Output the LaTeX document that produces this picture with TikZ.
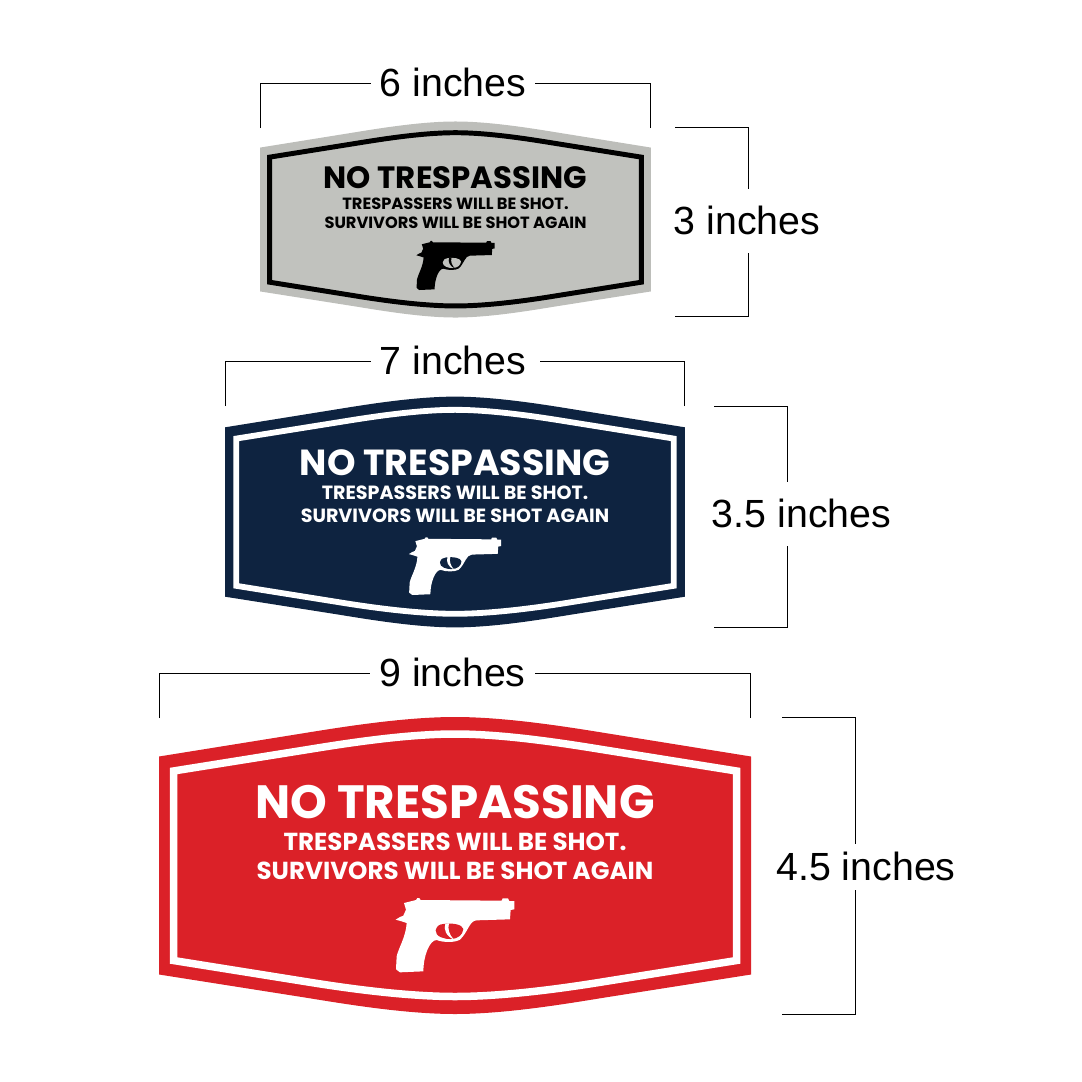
\documentclass[tikz,border=0pt]{standalone}
\usepackage{fontspec}
\setmainfont{Liberation Sans}
\newfontfamily\signfont{Poppins}
\definecolor{plategray}{HTML}{BDBEBA}
\definecolor{facegray}{HTML}{C1C2BE}
\definecolor{platenavy}{HTML}{0E2340}
\definecolor{platered}{HTML}{DB2128}
\newcommand{\outerpath}{(-296,-109) -- (-150,-132.5) .. controls (-110,-139) and (-50,-148.5) .. (0,-148.5) .. controls (50,-148.5) and (110,-139) .. (150,-132.5) -- (296,-109) -- (296,109) -- (150,132) .. controls (110,138.5) and (50,148.5) .. (0,148.5) .. controls (-50,148.5) and (-110,138.5) .. (-150,132) -- (-296,109) -- cycle}
\newcommand{\innerpath}{(-281.5,-94.5) -- (-150,-115.5) .. controls (-110,-122) and (-50,-131.5) .. (0,-131.5) .. controls (50,-131.5) and (110,-122) .. (150,-115.5) -- (281.5,-94.5) -- (281.5,95) -- (150,116) .. controls (110,122.5) and (50,131) .. (0,131) .. controls (-50,131) and (-110,122.5) .. (-150,116) -- (-281.5,95) -- cycle}
\newcommand{\gunpath}{(72,39) -- (108,30) -- (112,24) -- (118,24) -- (122,30) -- (365,32) -- (368,25) -- (384,25) -- (388,33) -- (403,33) -- (403,58) -- (392,60) -- (390,88) -- (290,91) .. controls (268,92) and (265,125) .. (240,149) .. controls (225,158) and (190,158) .. (170,150) .. controls (148,150) and (130,200) .. (130,244) -- (60,247) -- (52,241) -- (48,237) -- (50,199) .. controls (55,175) and (78,140) .. (80,99) -- (65,94) -- (47,89) -- (60,81) -- (70,77) -- (78,59) -- cycle}
\newcommand{\guardpath}{(167,121) .. controls (170,108) and (178,103) .. (190,102) .. controls (215,98) and (248,103) .. (250,117) .. controls (248,135) and (235,146) .. (212,147) .. controls (195,148) and (165,140) .. (167,121) -- cycle}
\newcommand{\triggerpath}{(196,101) .. controls (190,118) and (198,138) .. (222,149) .. controls (208,134) and (202,118) .. (207,100) -- cycle}
\tikzset{
	dimline/.style = {draw=black, line width=1pt},
	dimwide/.style = {font=\fontsize{39.3}{39.3}\selectfont, text height=26pt, text depth=0pt, inner xsep=9pt, inner ysep=0pt},
	dimhigh/.style = {font=\fontsize{39.3}{39.3}\selectfont, text height=26pt, text depth=0pt, inner xsep=0pt, inner ysep=19pt},
	signtext/.style = {anchor=base, inner sep=0pt, transform shape, text=\ink}
}
\begin{document}
\begin{tikzpicture}[x=1pt, y=-1pt]
	\useasboundingbox (0,0) rectangle (1082,1082);
	\foreach \name/\cx/\cy/\sc/\plate/\face/\ink in {
		gray/455.5/219.5/0.66/plategray/facegray/black,
		navy/455/512/0.777/platenavy/platenavy/white,
		red/455/865.5/1/platered/platered/white} {
		\begin{scope}[shift={(\cx,\cy)}, scale=\sc]
			\fill[\plate] \outerpath;
			\pgfmathsetlengthmacro{\bandw}{7.5pt*\sc}
			\draw[\ink, line width=\bandw, fill=\face] \innerpath;
			\node[signtext, font=\signfont\bfseries\fontsize{46.7}{46.7}\selectfont] (\name title) at (0,-47.5) {NO TRESPASSING};
			\node[signtext, font=\signfont\bfseries\fontsize{24.6}{24.6}\selectfont] (\name lineone) at (0,-15.5) {TRESPASSERS WILL BE SHOT.};
			\node[signtext, font=\signfont\bfseries\fontsize{24.6}{24.6}\selectfont] (\name linetwo) at (0,13.5) {SURVIVORS WILL BE SHOT AGAIN};
			\begin{scope}[shift={(-75,24.5)}, scale=0.3333]
				\fill[\ink] \gunpath;
				\fill[\face] \guardpath;
				\fill[\ink] \triggerpath;
			\end{scope}
		\end{scope}
	}
	% width brackets
	\node[dimwide] (grayw) at (453,83) {6 inches};
	\coordinate (graywa) at (260.5,128);
	\coordinate (graywb) at (650.5,128);
	\draw[dimline] (graywa) |- (grayw.west);
	\draw[dimline] (graywb) |- (grayw.east);
	\node[dimwide] (navyw) at (453,361.5) {7 inches};
	\coordinate (navywa) at (225.5,406);
	\coordinate (navywb) at (684.5,406);
	\draw[dimline] (navywa) |- (navyw.west);
	\draw[dimline] (navywb) |- ([xshift=5pt]navyw.east);
	\node[dimwide] (redw) at (452.5,673.5) {9 inches};
	\coordinate (redwa) at (159.5,718);
	\coordinate (redwb) at (750.5,718);
	\draw[dimline] (redwa) |- (redw.west);
	\draw[dimline] (redwb) |- (redw.east);
	% height brackets
	\node[dimhigh] (grayh) at (747,221) {3 inches};
	\coordinate (grayha) at (675,127);
	\coordinate (grayhb) at (675,316.5);
	\draw[dimline] (grayha) -| ([xshift=1.5pt]grayh.north);
	\draw[dimline] (grayhb) -| ([xshift=1.5pt]grayh.south);
	\node[dimhigh] (navyh) at (801.5,514) {3.5 inches};
	\coordinate (navyha) at (714,406.5);
	\coordinate (navyhb) at (714,627.5);
	\draw[dimline] (navyha) -| ([xshift=-14pt]navyh.north);
	\draw[dimline] (navyhb) -| ([xshift=-14pt]navyh.south);
	\node[dimhigh, inner ysep=10pt] (redh) at (866,867) {4.5 inches};
	\coordinate (redha) at (782,717);
	\coordinate (redhb) at (782,1014.5);
	\draw[dimline] (redha) -| ([xshift=-10.5pt]redh.north);
	\draw[dimline] (redhb) -| ([xshift=-10.5pt]redh.south);
\end{tikzpicture}
\end{document}
